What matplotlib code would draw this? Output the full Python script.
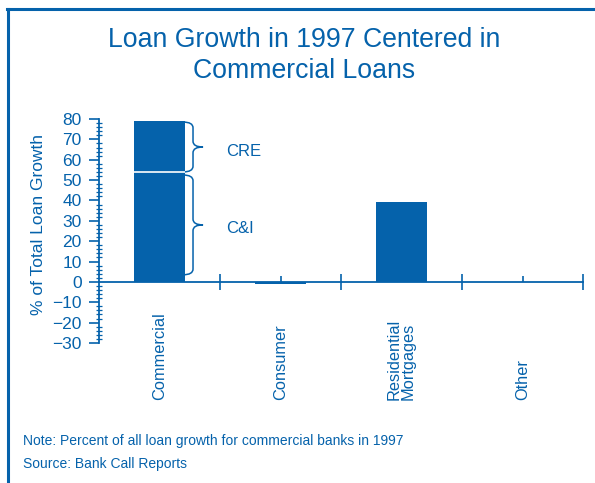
import numpy as np
import matplotlib
matplotlib.use("Agg")
import matplotlib.pyplot as plt
from matplotlib.path import Path
from matplotlib.patches import PathPatch
from matplotlib.lines import Line2D

# Data
categories = ["Commercial", "Consumer", "Residential\nMortgages", "Other"]
ci_share = [54, 0, 0, 0]          # C&I part of commercial
cre_share = [25, 0, 0, 0]         # CRE part of commercial
other_values = [0, -1, 39, 0]     # consumer, residential, other
yticks = list(range(-30, 90, 10))

blue = "#0562AB"
plt.rcParams["font.family"] = ["Liberation Sans", "DejaVu Sans"]

fig = plt.figure(figsize=(5.95, 4.83), dpi=100)
ax = fig.add_axes([99 / 595, 1 - 343 / 483, (583 - 99) / 595, (343 - 119) / 483])

x = np.arange(len(categories))
w = 0.42
ax.bar(x, ci_share, width=w, color=blue, linewidth=0)
ax.bar(x, cre_share, width=w, bottom=ci_share, color=blue, linewidth=0)
ax.bar(x, other_values, width=w, color=blue, linewidth=0)
# white split between C&I and CRE
ax.hlines(ci_share[0], x[0] - w / 2, x[0] + w / 2, color="white", lw=1.2, zorder=3)

ax.set_xlim(-0.5, 3.5)
ax.set_ylim(-30, 80)

for s in ["top", "right"]:
    ax.spines[s].set_visible(False)
ax.spines["bottom"].set_position(("data", 0))
ax.spines["bottom"].set_color(blue)
ax.spines["left"].set_color(blue)
ax.spines["bottom"].set_linewidth(1.3)
ax.spines["left"].set_linewidth(1.3)

ax.set_yticks(yticks)
ax.set_yticks(np.arange(-30, 81, 2), minor=True)
ax.tick_params(axis="y", which="major", direction="out", length=7, width=1.2,
               colors=blue, labelsize=12.5, pad=5.5)
ax.tick_params(axis="y", which="minor", direction="inout", length=4.5, width=0.9, colors=blue)

ax.set_xticks([0.5, 1.5, 2.5, 3.5])
ax.set_xticklabels([])
ax.set_xticks(x, minor=True)
ax.set_xticklabels([], minor=True)
ax.tick_params(axis="x", which="major", direction="inout", length=12, width=1.2, colors=blue)
ax.tick_params(axis="x", which="minor", direction="in", length=4, width=1.2, colors=blue)

# category labels, rotated and aligned at their start
for xi, name in zip(x, categories):
    ax.text(xi, -0.254, name, transform=ax.get_xaxis_transform(), rotation=90,
            ha="center", va="bottom", multialignment="left", linespacing=0.9,
            color=blue, fontsize=11.8)

ax.set_ylabel("% of Total Loan Growth", color=blue, fontsize=12.5)
ax.yaxis.set_label_coords(-0.11, 0.53)


def brace(y_top, y_bot, x0=0.194, x1=0.277, x2=0.36, r=2.8):
    ym = (y_top + y_bot) / 2
    verts = [(x0, y_top), (x1, y_top), (x1, y_top - r),
             (x1, ym + r), (x1, ym), (x2, ym),
             (x1, ym), (x1, ym - r),
             (x1, y_bot + r), (x1, y_bot), (x0, y_bot)]
    codes = [Path.MOVETO, Path.CURVE3, Path.CURVE3,
             Path.LINETO, Path.CURVE3, Path.CURVE3,
             Path.CURVE3, Path.CURVE3,
             Path.LINETO, Path.CURVE3, Path.CURVE3]
    ax.add_patch(PathPatch(Path(verts, codes), fill=False, edgecolor=blue, lw=1.1))


brace(78.5, 54)
brace(52.5, 3.5)
ax.text(0.55, 64, "CRE", color=blue, fontsize=12, va="center")
ax.text(0.55, 26, "C&I", color=blue, fontsize=12, va="center")

fig.text(304 / 595, 1 - 47 / 483, "Loan Growth in 1997 Centered in", color=blue,
         fontsize=19.2, ha="center", va="baseline")
fig.text(304 / 595, 1 - 78 / 483, "Commercial Loans", color=blue,
         fontsize=19.2, ha="center", va="baseline")

fig.text(23 / 595, 1 - 441 / 483, "Note: Percent of all loan growth for commercial banks in 1997",
         color=blue, fontsize=10, va="center")
fig.text(23 / 595, 1 - 464 / 483, "Source: Bank Call Reports",
         color=blue, fontsize=10, va="center")

# frame: top and left rules
fig.add_artist(Line2D([7 / 595, 594 / 595], [1 - 9 / 483, 1 - 9 / 483], color=blue, lw=2.2))
fig.add_artist(Line2D([8 / 595, 8 / 595], [1 - 9 / 483, 0], color=blue, lw=2.2))

fig.savefig("out.png", dpi=100)
